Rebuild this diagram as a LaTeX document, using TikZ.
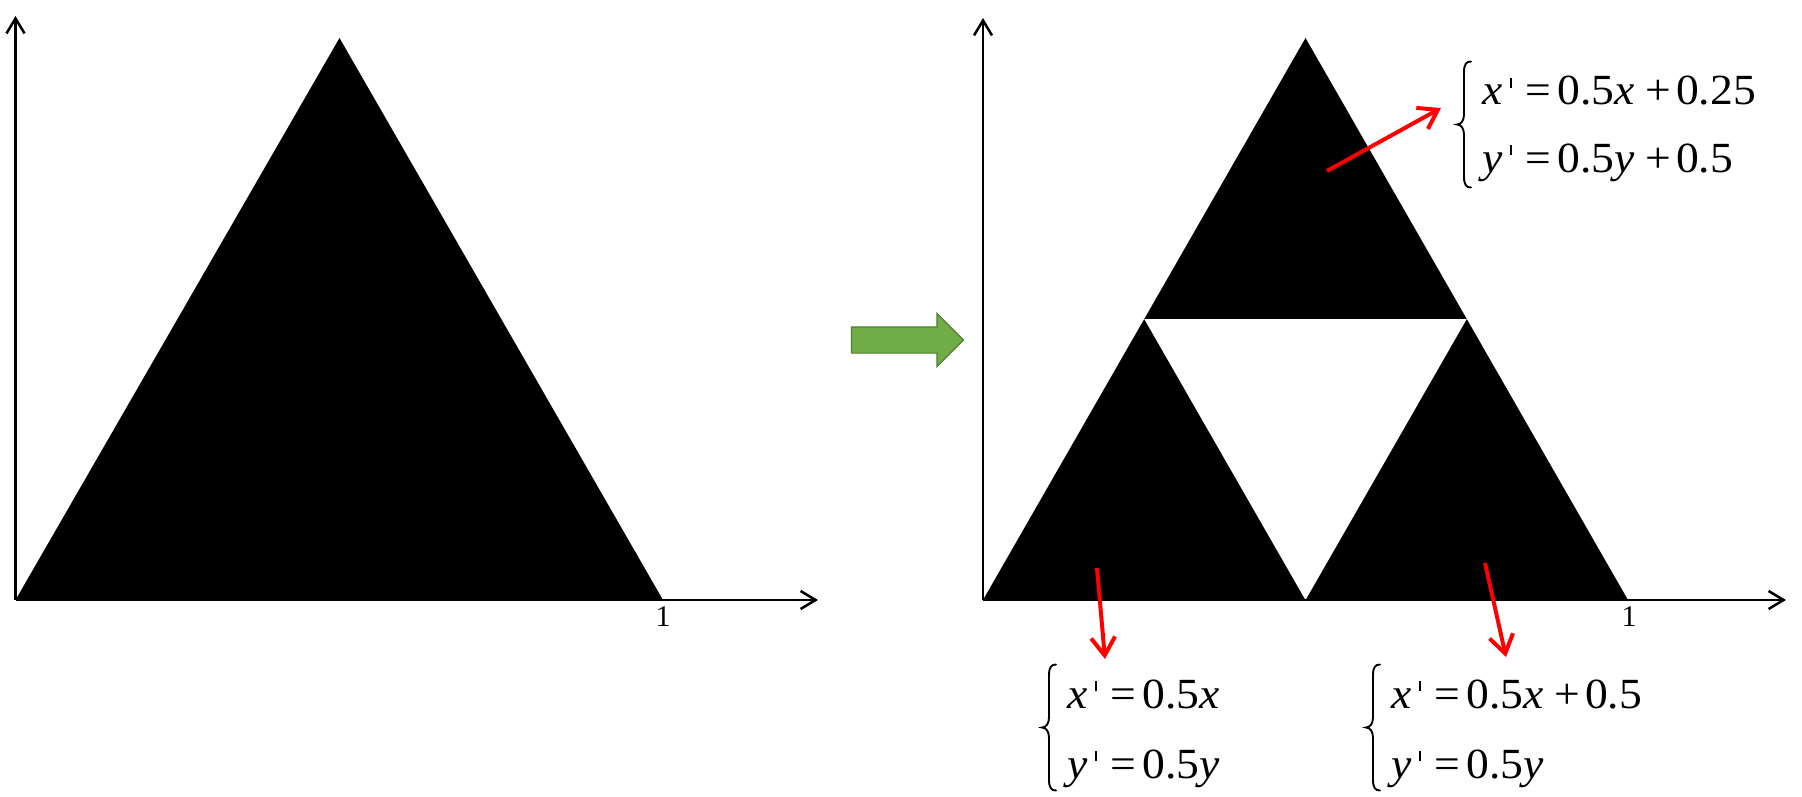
\documentclass[tikz,border=0pt]{standalone}
\usepackage{fontspec}
\setmainfont{Liberation Serif}
\newfontfamily\eqfont{Liberation Serif}[FakeStretch=1.06]
\usetikzlibrary{arrows.meta,shapes.arrows}
\definecolor{arrowgreen}{HTML}{70AD47}
\definecolor{arrowgreenedge}{HTML}{507E32}
\definecolor{pointred}{HTML}{FF0000}
\newcommand{\myprime}{\raisebox{17pt}{\rule{1.8pt}{10pt}}}
\newcommand{\lhsx}{\textit{x}\hspace{8pt}\myprime\hspace{13.3pt}=\hspace{6pt}}
\newcommand{\lhsy}{\textit{y}\hspace{8pt}\myprime\hspace{13.3pt}=\hspace{6pt}}
\newcommand{\plussp}{\hspace{11pt}+\hspace{5pt}}
\begin{document}
\begin{tikzpicture}[x=1pt,y=-1pt,
  axis/.style={line width=2.5pt,-{Straight Barb[length=15pt,width=18pt]}},
  redarrow/.style={pointred,line width=4pt,-{Straight Barb[length=18pt,width=24pt]}},
  eq/.style={inner sep=0pt,anchor=base west,font=\eqfont\fontsize{43}{43}\selectfont},
  ticklabel/.style={inner sep=0pt,font=\fontsize{30}{30}\selectfont},
  eqbrace/.pic={\draw[line width=1.9pt,line cap=round]
    (7,-63) .. controls (2,-63) and (0,-60) .. (0,-52) -- (0,-10)
    .. controls (0,-4) and (-3,0) .. (-7,0)
    .. controls (-3,0) and (0,4) .. (0,10) -- (0,52)
    .. controls (0,60) and (2,63) .. (7,63);}]
\useasboundingbox (0,0) rectangle (1802,797);
% left panel
\coordinate (o1) at (15.5,600);
\coordinate (a1) at (339.5,38);
\coordinate (b1) at (663,600);
\coordinate (xe1) at (818,600);
\coordinate (ye1) at (15.5,16);
\fill[black] (o1) -- (a1) -- (b1) -- cycle;
\draw[axis] (o1) -- (xe1);
\draw[axis] (o1) -- (ye1);
\node[ticklabel] (one1) at (663,617) {1};
% green arrow
\node[single arrow,draw=arrowgreenedge,fill=arrowgreen,line width=1.2pt,
  minimum height=112pt,inner sep=12.5pt,single arrow head extend=13.5pt,
  single arrow tip angle=90] (go) at (901,340) {};
% right panel
\coordinate (o2) at (983,600);
\coordinate (a2) at (1305.5,38);
\coordinate (b2) at (1628,600);
\coordinate (ml) at (1144.25,319);
\coordinate (mr) at (1466.75,319);
\coordinate (mb) at (1305.5,600);
\coordinate (xe2) at (1786,600);
\coordinate (ye2) at (983,18);
\fill[black] (o2) -- (a2) -- (b2) -- cycle;
\fill[white] (ml) -- (mr) -- (mb) -- cycle;
\draw[axis] (o2) -- (xe2);
\draw[axis] (o2) -- (ye2);
\node[ticklabel] (one2) at (1629,617) {1};
% red arrows
\coordinate (r1s) at (1327,171);
\coordinate (r1e) at (1441,108);
\coordinate (r2s) at (1097,568);
\coordinate (r2e) at (1105,659);
\coordinate (r3s) at (1485,563);
\coordinate (r3e) at (1506,657);
\draw[redarrow] (r1s) -- (r1e);
\draw[redarrow] (r2s) -- (r2e);
\draw[redarrow] (r3s) -- (r3e);
% equations
\pic at (1464,124.5) {eqbrace};
\node[eq] (e1x) at (1482,105) {\lhsx 0.5\textit{x}\plussp 0.25};
\node[eq] (e1y) at (1482,172) {\lhsy 0.5\textit{y}\plussp 0.5};
\pic at (1049,727.5) {eqbrace};
\node[eq] (e2x) at (1067,708) {\lhsx 0.5\textit{x}};
\node[eq] (e2y) at (1067,778) {\lhsy 0.5\textit{y}};
\pic at (1373,727.5) {eqbrace};
\node[eq] (e3x) at (1391,708) {\lhsx 0.5\textit{x}\plussp 0.5};
\node[eq] (e3y) at (1391,778) {\lhsy 0.5\textit{y}};
\end{tikzpicture}
\end{document}
